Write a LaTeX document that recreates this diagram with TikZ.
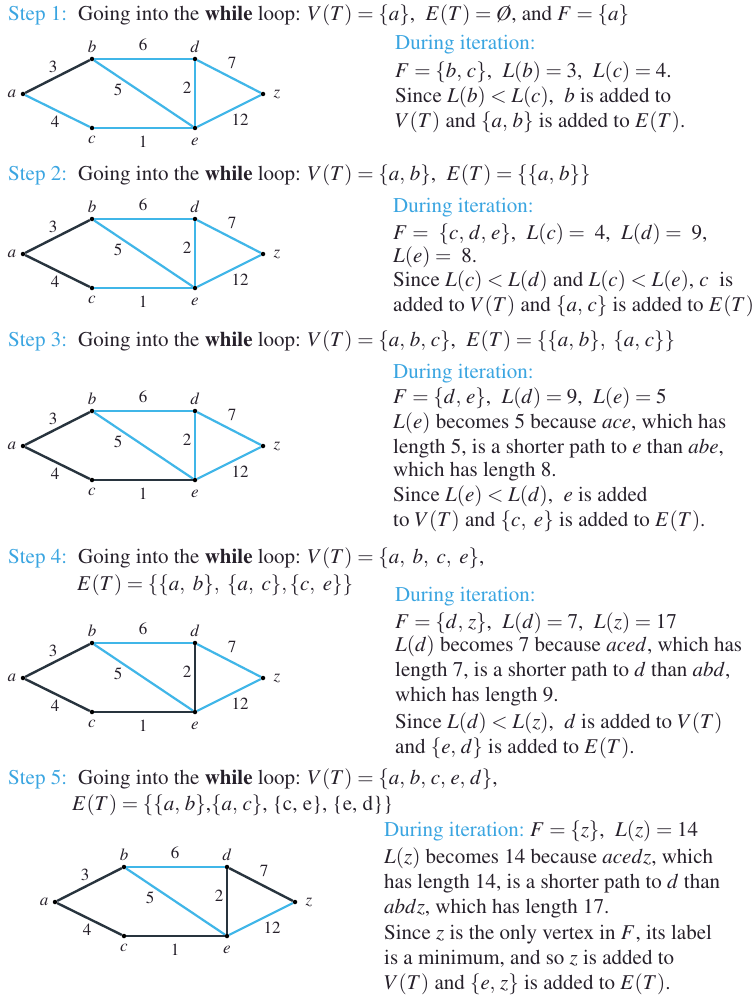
\documentclass[tikz,border=0pt]{standalone}
\usepackage[T1]{fontenc}
\usepackage{mathptmx}
\definecolor{sblue}{RGB}{58,165,225}
\definecolor{eblue}{RGB}{64,182,232}
\definecolor{edark}{RGB}{40,52,62}
\definecolor{tdark}{RGB}{38,32,42}
\tikzset{
 vdot/.style={circle,fill=black,inner sep=0pt,minimum size=4.5pt},
 bl/.style={draw=eblue,line width=2.2pt},
 dk/.style={draw=edark,line width=2.4pt},
 vlab/.style={font=\fontsize{17}{17}\selectfont,text=tdark,inner sep=0pt},
 wlab/.style={font=\fontsize{17}{17}\selectfont,text=tdark,inner sep=0pt},
 txtline/.style={anchor=base west,inner sep=0pt,font=\fontsize{21}{25}\selectfont,text=tdark},
}
\newcommand{\stepgraph}[4]{%
 \node[vdot] (#1a) at (#2,#3) {};
 \node[vdot] (#1b) at ({#2+69},{#3-35}) {};
 \node[vdot] (#1d) at ({#2+172},{#3-35}) {};
 \node[vdot] (#1z) at ({#2+240},{#3}) {};
 \node[vdot] (#1c) at ({#2+69},{#3+34}) {};
 \node[vdot] (#1e) at ({#2+172},{#3+34}) {};
 \foreach \u/\v/\s in {#4} {\draw[\s] (#1\u) -- (#1\v);}
 \node[vlab] (#1la) at ({#2-11},{#3}) {$a$};
 \node[vlab] (#1lb) at ({#2+69},{#3-47}) {$b$};
 \node[vlab] (#1ld) at ({#2+172},{#3-47}) {$d$};
 \node[vlab] (#1lz) at ({#2+254},{#3}) {$z$};
 \node[vlab] (#1lc) at ({#2+69},{#3+46}) {$c$};
 \node[vlab] (#1le) at ({#2+172},{#3+48}) {$e$};
 \node[wlab] (#1w3) at ({#2+30},{#3-27}) {3};
 \node[wlab] (#1w6) at ({#2+120},{#3-49}) {6};
 \node[wlab] (#1w7) at ({#2+209},{#3-31}) {7};
 \node[wlab] (#1w5) at ({#2+95},{#3-4}) {5};
 \node[wlab] (#1w2) at ({#2+164},{#3-6}) {2};
 \node[wlab] (#1w4) at ({#2+32},{#3+28}) {4};
 \node[wlab] (#1w1) at ({#2+120},{#3+48}) {1};
 \node[wlab] (#1w12) at ({#2+217},{#3+26}) {12};
}
\newcommand{\tl}[4]{\node[txtline] (#1) at (#2,#3) {#4};}
\newcommand{\di}{\textcolor{sblue}{During iteration:}}
\begin{document}
\begin{tikzpicture}[x=1pt,y=-1pt]
\fill[white] (0,0) rectangle (754,995);
\useasboundingbox (0,0) rectangle (754,995);
% ---------- Step 1
\tl{s1}{8}{21}{\textcolor{sblue}{Step 1:}}
\tl{h1}{78}{21}{Going into the \textbf{while} loop: $V(T) = \{a\}$,\ \ $E(T) = \textit{\O}$, and $F = \{a\}$}
\stepgraph{g1}{23}{94}{a/b/dk, a/c/bl, b/d/bl, b/e/bl, c/e/bl, d/e/bl, d/z/bl, e/z/bl}
\tl{r1a}{395}{50}{\di}
\tl{r1b}{395}{78}{$F = \{b,\,c\}$,\ \ $L(b) = 3$,\ \ $L(c) = 4$.}
\tl{r1c}{395}{103}{Since $L(b) < L(c)$,\ \ $b$ is added to}
\tl{r1d}{395}{128}{$V(T)$ and $\{a,\,b\}$ is added to $E(T)$.}
% ---------- Step 2
\tl{s2}{8}{181}{\textcolor{sblue}{Step 2:}}
\tl{h2}{78}{181}{Going into the \textbf{while} loop: $V(T) = \{a,\,b\}$,\ \ $E(T) = \{\{a,\,b\}\}$}
\stepgraph{g2}{23}{254}{a/b/dk, a/c/dk, b/d/bl, b/e/bl, c/e/bl, d/e/bl, d/z/bl, e/z/bl}
\tl{r2a}{393}{212}{\di}
\tl{r2b}{393}{239}{$F =\ \{c,\,d,\,e\}$,\ \ $L(c) =\ 4$,\ \ $L(d) =\ 9$,}
\tl{r2c}{393}{262}{$L(e) =\ 8$.}
\tl{r2d}{393}{286}{Since $L(c) < L(d)$ and $L(c) < L(e)$, $c$\ \ is}
\tl{r2e}{393}{311}{added to $V(T)$ and $\{a,\,c\}$ is added to $E(T)$}
% ---------- Step 3
\tl{s3}{8}{346}{\textcolor{sblue}{Step 3:}}
\tl{h3}{78}{346}{Going into the \textbf{while} loop: $V(T) = \{a,\,b,\,c\}$,\ \ $E(T) = \{\{a,\,b\},\ \{a,\,c\}\}$}
\stepgraph{g3}{23}{446}{a/b/dk, a/c/dk, b/d/bl, b/e/bl, c/e/dk, d/e/bl, d/z/bl, e/z/bl}
\tl{r3a}{393}{378}{\di}
\tl{r3b}{393}{403}{$F = \{d,\,e\}$,\ \ $L(d) = 9$,\ \ $L(e) = 5$}
\tl{r3c}{393}{428}{$L(e)$ becomes 5 because $ace$, which has}
\tl{r3d}{393}{453}{length 5, is a shorter path to $e$ than $abe$,}
\tl{r3e}{393}{476}{which has length 8.}
\tl{r3f}{393}{501}{Since $L(e) < L(d)$,\ \ $e$ is added}
\tl{r3g}{393}{526}{to $V(T)$ and $\{c,\ e\}$ is added to $E(T)$.}
% ---------- Step 4
\tl{s4}{8}{563}{\textcolor{sblue}{Step 4:}}
\tl{h4}{78}{563}{Going into the \textbf{while} loop: $V(T) = \{a,\ b,\ c,\ e\}$,}
\tl{h4b}{77}{590}{$E(T) = \{\{a,\ b\},\ \{a,\ c\}, \{c,\ e\}\}$}
\stepgraph{g4}{23}{678}{a/b/dk, a/c/dk, b/d/bl, b/e/bl, c/e/dk, d/e/dk, d/z/bl, e/z/bl}
\tl{r4a}{395}{601}{\di}
\tl{r4b}{395}{628}{$F = \{d,\,z\}$,\ \ $L(d) = 7$,\ \ $L(z) = 17$}
\tl{r4c}{395}{651}{$L(d)$ becomes 7 because $aced$, which has}
\tl{r4d}{395}{676}{length 7, is a shorter path to $d$\ than $abd$,}
\tl{r4e}{395}{701}{which has length 9.}
\tl{r4f}{395}{728}{Since $L(d) < L(z)$,\ \ $d$ is added to $V(T)$}
\tl{r4g}{395}{753}{and $\{e,\,d\}$ is added to $E(T)$.}
% ---------- Step 5
\tl{s5}{8}{784}{\textcolor{sblue}{Step 5:}}
\tl{h5}{78}{784}{Going into the \textbf{while} loop: $V(T) = \{a,\,b,\,c,\,e,\,d\}$,}
\tl{h5b}{72}{810}{$E(T) = \{\{a,\,b\}$,$\{a,\,c\}$,\ \{c, e\},\ \{e, d\}\}}
\stepgraph{g5}{55}{902}{a/b/dk, a/c/dk, b/d/bl, b/e/bl, c/e/dk, d/e/dk, d/z/dk, e/z/bl}
\tl{r5a}{384}{836}{\di\ $F = \{z\}$,\ \ $L(z) = 14$}
\tl{r5b}{384}{863}{$L(z)$ becomes 14 because $acedz$, which}
\tl{r5c}{384}{888}{has length 14, is a shorter path to $d$ than}
\tl{r5d}{384}{913}{$abdz$, which has length 17.}
\tl{r5e}{384}{939}{Since $z$ is the only vertex in $F$, its label}
\tl{r5f}{384}{964}{is a minimum, and so $z$ is added to}
\tl{r5g}{384}{989}{$V(T)$ and $\{e,\,z\}$ is added to $E(T)$.}
\end{tikzpicture}
\end{document}
